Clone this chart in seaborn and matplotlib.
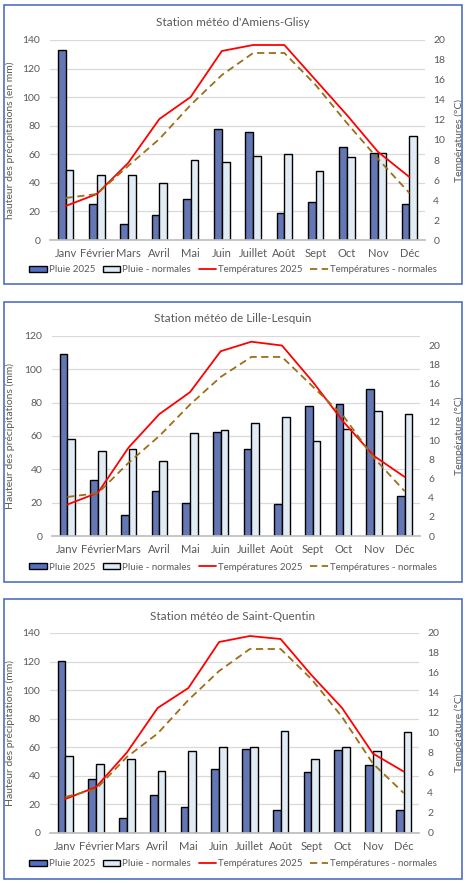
import matplotlib
matplotlib.use("Agg")
import matplotlib.pyplot as plt
import seaborn as sns
import pandas as pd
from matplotlib.patches import Rectangle, Patch
from matplotlib.lines import Line2D

# Données
mois = ['Janv', 'Février', 'Mars', 'Avril', 'Mai', 'Juin', 'Juillet', 'Août', 'Sept', 'Oct', 'Nov', 'Déc']

amiens_pluie_2025 = [133, 25, 11, 17.3, 28.5, 77.5, 75.5, 18.7, 26.4, 65, 60.7, 25]
amiens_pluie_norm = [48.8, 45.3, 45.3, 39.7, 55.8, 54.4, 58.6, 60, 48, 57.9, 60.7, 72.6]
amiens_temp_2025 = [3.4, 4.6, 7.7, 12.1, 14.3, 18.9, 19.5, 19.5, 16.0, 12.5, 8.8, 6.3]
amiens_temp_norm = [4.2, 4.6, 7.4, 10.1, 13.5, 16.5, 18.7, 18.7, 15.5, 11.7, 8.1, 4.7]

lille_pluie_2025 = [109.2, 33.5, 12.4, 26.9, 19.6, 62.3, 52.1, 19, 78, 79.2, 88.2, 23.8]
lille_pluie_norm = [58.1, 50.9, 52.1, 44.9, 61.7, 63.5, 67.7, 71.3, 56.9, 64.1, 74.9, 73.1]
lille_temp_2025 = [3.3, 4.55, 9.3, 12.8, 15.1, 19.4, 20.4, 20.0, 16.2, 12.0, 8.4, 6.2]
lille_temp_norm = [4.1, 4.5, 7.7, 10.5, 13.8, 16.7, 18.8, 18.8, 15.7, 12.6, 8.2, 4.7]

stq_pluie_2025 = [120.7, 37.5, 10.3, 26.3, 17.9, 44.5, 58.5, 15.8, 42.4, 57.8, 47.3, 15.8]
stq_pluie_norm = [53.6, 48, 51.5, 43.1, 57.1, 59.9, 59.9, 71.1, 51.5, 59.9, 57.1, 70.4]
stq_temp_2025 = [3.4, 4.6, 8.05, 12.5, 14.5, 19.1, 19.7, 19.4, 15.8, 12.5, 7.95, 6.15]
stq_temp_norm = [3.6, 4.4, 7.6, 9.95, 13.3, 16.2, 18.4, 18.4, 15.4, 11.6, 6.95, 4.0]

# Style
sns.set_theme(style="white")
plt.rcParams['font.family'] = ['Lato', 'DejaVu Sans']

bleu = '#5470c1'
bleu_clair = '#deebf7'
rouge = '#ff0000'
brun = '#9c6e17'
gris = '#595959'

W, H = 466, 883
fig = plt.figure(figsize=(W / 100, H / 100), dpi=100)


def px(x0, y0, x1, y1):
    # rectangle en pixels -> coordonnées figure
    return [x0 / W, 1 - y1 / H, (x1 - x0) / W, (y1 - y0) / H]


def graphique(zone, boite, titre_y, titre, lab_gauche, lab_droite, ymax_g, ymax_d,
              pluie_2025, pluie_norm, temp_2025, temp_norm, legende_y):
    # Cadre
    fig.patches.append(Rectangle((boite[0] / W, 1 - boite[3] / H),
                                 (boite[2] - boite[0]) / W, (boite[3] - boite[1]) / H,
                                 transform=fig.transFigure, fill=False,
                                 edgecolor='#4f6fc0', linewidth=1.2))

    largeur = zone[2] - zone[0]
    ax = fig.add_axes(px(*zone))
    df = pd.DataFrame({
        'Mois': mois * 2,
        'Pluie': pluie_2025 + pluie_norm,
        'Série': ['Pluie 2025'] * 12 + ['Pluie - normales'] * 12,
    })
    sns.barplot(data=df, x='Mois', y='Pluie', hue='Série',
                palette=[bleu, bleu_clair], width=0.5, edgecolor='black',
                linewidth=1.0, ax=ax, legend=False)
    ax.set_ylim(0, ymax_g)
    ax.set_xlim(-0.5, 11.5)
    ax.set_yticks(range(0, ymax_g + 1, 20))
    ax.yaxis.grid(True, color='#d9d9d9', linewidth=0.9)
    ax.set_axisbelow(True)
    for s in ['top', 'right', 'left']:
        ax.spines[s].set_visible(False)
    ax.spines['bottom'].set_color('#bfbfbf')
    ax.set_xlabel('')
    ax.set_ylabel(lab_gauche, color=gris, fontsize=7.5)
    ax.yaxis.set_label_coords((15 - zone[0]) / largeur, 0.5)
    ax.tick_params(axis='x', length=0, labelsize=8, colors=gris, pad=6)
    ax.tick_params(axis='y', length=0, labelsize=7.5, colors=gris, pad=7)
    ax.set_xticks([i + 0.5 for i in range(-1, 12)], minor=True)
    ax.tick_params(axis='x', which='minor', length=4, color='#bfbfbf', width=0.9)

    ax2 = ax.twinx()
    sns.lineplot(x=list(range(12)), y=temp_2025, color=rouge, linewidth=1.3, ax=ax2)
    sns.lineplot(x=list(range(12)), y=temp_norm, color=brun, linewidth=1.3, ax=ax2,
                 linestyle=(0, (4, 2.5)))
    ax2.set_ylim(0, ymax_d)
    ax2.set_yticks(range(0, 21, 2))
    for s in ['top', 'right', 'left', 'bottom']:
        ax2.spines[s].set_visible(False)
    ax2.tick_params(axis='y', length=0, labelsize=7.5, colors=gris, pad=6)
    ax2.set_ylabel(lab_droite, color=gris, fontsize=7.5)
    ax2.yaxis.set_label_coords((454 - zone[0]) / largeur, 0.5)
    ax2.set_xlim(-0.5, 11.5)

    fig.text(0.5 * (boite[0] + boite[2]) / W, 1 - titre_y / H, titre,
             ha='center', va='center', fontsize=8.5, color=gris)

    poignees = [
        Patch(facecolor=bleu, edgecolor='black', linewidth=1.0),
        Patch(facecolor=bleu_clair, edgecolor='black', linewidth=1.0),
        Line2D([], [], color=rouge, linewidth=1.3),
        Line2D([], [], color=brun, linewidth=1.3, linestyle=(0, (4, 2.5))),
    ]
    noms = ['Pluie 2025', 'Pluie - normales', 'Températures 2025', 'Températures - normales']
    fig.legend(poignees, noms, loc='center', ncol=4, frameon=False,
               bbox_to_anchor=(0.5 * (boite[0] + boite[2]) / W, 1 - legende_y / H),
               fontsize=7, labelcolor=gris, handlelength=1.8, handleheight=0.5,
               handletextpad=0.2, columnspacing=0.8, borderaxespad=0)


graphique((50, 40, 425, 240), (4, 5, 462, 284), 22, "Station météo d'Amiens-Glisy",
          'hauteur des précipitations (en mm)', 'Températures (°C)', 140, 20,
          amiens_pluie_2025, amiens_pluie_norm, amiens_temp_2025, amiens_temp_norm, 270)

graphique((52, 336, 420, 536), (4, 302, 462, 582), 319, 'Station météo de Lille-Lesquin',
          'Hauteur des précipitations (mm)', 'Température (°C)', 120, 21,
          lille_pluie_2025, lille_pluie_norm, lille_temp_2025, lille_temp_norm, 567)

graphique((50, 633, 419, 833), (4, 599, 462, 879), 616, 'Station météo de Saint-Quentin',
          'Hauteur des précipitations (mm)', 'Température (°C)', 140, 20,
          stq_pluie_2025, stq_pluie_norm, stq_temp_2025, stq_temp_norm, 864)

fig.savefig('out.png', dpi=100)
